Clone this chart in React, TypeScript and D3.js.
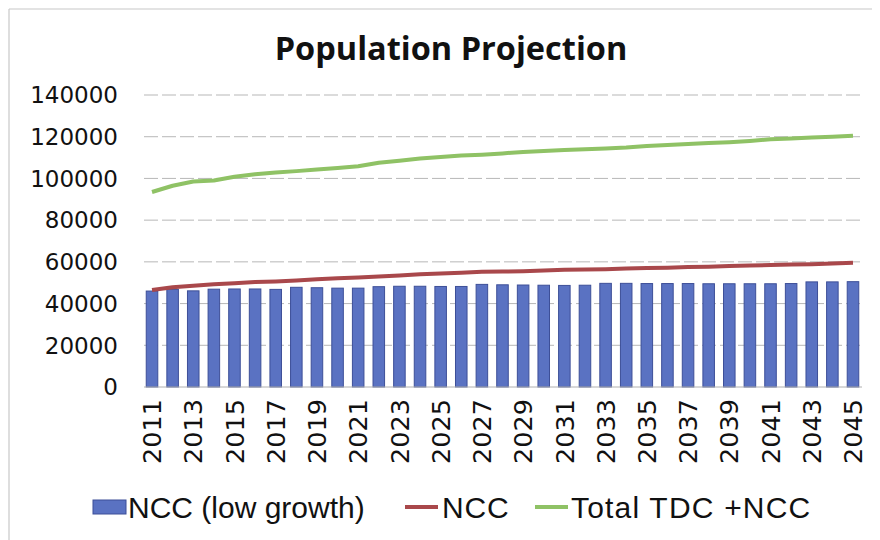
import React from "react";
import * as d3 from "d3";

const years: number[] = d3.range(2011, 2046);

const nccLowGrowth: number[] = [
  46000, 46800, 46100, 46900, 47000, 47000, 46800, 47800, 47600, 47400,
  47400, 48100, 48300, 48300, 48200, 48200, 49200, 49000, 48900, 48800,
  48700, 48800, 49700, 49700, 49600, 49600, 49600, 49500, 49500, 49500,
  49500, 49600, 50400, 50400, 50500,
];

const ncc: number[] = [
  46500, 47800, 48600, 49300, 49800, 50300, 50600, 51100, 51700, 52100,
  52500, 53000, 53500, 54000, 54400, 54800, 55200, 55400, 55500, 55800,
  56200, 56300, 56500, 56800, 57000, 57200, 57500, 57700, 58000, 58200,
  58500, 58700, 58900, 59200, 59600,
];

const totalTdcNcc: number[] = [
  93500, 96500, 98500, 99000, 100800, 102000, 102800, 103500, 104300, 105000,
  105800, 107500, 108500, 109500, 110300, 111000, 111400, 112000, 112700, 113200,
  113600, 114000, 114400, 114800, 115500, 116000, 116500, 117000, 117400, 118000,
  118800, 119200, 119600, 120000, 120500,
];

const yTicks: number[] = [0, 20000, 40000, 60000, 80000, 100000, 120000, 140000];
const xTickYears: number[] = years.filter((y) => (y - 2011) % 2 === 0);

const legendLabels: string[] = ["NCC (low growth)", "NCC", "Total TDC +NCC"];

const W = 880;
const H = 540;
const FONT = "'DejaVu Sans', Verdana, sans-serif";
const LEGEND_FONT = "'Liberation Sans', Arial, sans-serif";
const BAR_FILL = "#5a72c2";
const BAR_STROKE = "#3d4f98";
const RED = "#a9484b";
const GREEN = "#8fc265";

export default function App() {
  const x = d3
    .scaleBand<number>()
    .domain(years)
    .range([141.7, 863.3])
    .paddingInner(0.44)
    .paddingOuter(0.22);
  const y = d3.scaleLinear().domain([0, 140000]).range([387, 95]);
  const cx = (yr: number) => (x(yr) as number) + x.bandwidth() / 2;

  const line = d3
    .line<number>()
    .x((_, i) => cx(years[i]))
    .y((v) => y(v));

  return (
    <svg
      width={W}
      height={H}
      viewBox={`0 0 ${W} ${H}`}
      style={{ position: "absolute", left: 0, top: 0, background: "#fff" }}
    >
      <rect x={0} y={0} width={W} height={H} fill="#fff" />
      {/* chart frame */}
      <line x1={9} y1={9} x2={872} y2={9} stroke="#c8c8c8" strokeWidth={1.2} />
      <line x1={9} y1={9} x2={9} y2={540} stroke="#c8c8c8" strokeWidth={1.2} />

      <text
        x={451}
        y={60}
        textAnchor="middle"
        fontFamily="'Open Sans', sans-serif"
        fontWeight={700}
        fontSize={32.5}
        fill="#111"
      >
        Population Projection
      </text>

      {/* gridlines */}
      {yTicks.slice(1).map((t) => (
        <line
          key={t}
          x1={144}
          x2={862}
          y1={y(t)}
          y2={y(t)}
          stroke="#a0a0a0"
          strokeWidth={1}
          strokeDasharray="14 4"
          opacity={0.75}
        />
      ))}

      {/* y tick labels */}
      {yTicks.map((t) => (
        <text
          key={t}
          x={118}
          y={y(t)}
          dy="0.36em"
          textAnchor="end"
          fontFamily={FONT}
          fontSize={23}
          fill="#111"
        >
          {t}
        </text>
      ))}

      {/* bars */}
      {years.map((yr, i) => (
        <rect
          key={yr}
          x={x(yr)}
          y={y(nccLowGrowth[i])}
          width={x.bandwidth()}
          height={y(0) - y(nccLowGrowth[i])}
          fill={BAR_FILL}
          stroke={BAR_STROKE}
          strokeWidth={1}
        />
      ))}

      {/* baseline */}
      <line x1={144} x2={862} y1={y(0)} y2={y(0)} stroke="#b0b0b0" strokeWidth={1} />

      {/* lines */}
      <path d={line(ncc) || ""} fill="none" stroke={RED} strokeWidth={4} strokeLinejoin="round" />
      <path d={line(totalTdcNcc) || ""} fill="none" stroke={GREEN} strokeWidth={4} strokeLinejoin="round" />

      {/* x tick labels */}
      {xTickYears.map((yr) => (
        <text
          key={yr}
          transform={`translate(${cx(yr)},${399}) rotate(-90)`}
          dy="0.36em"
          textAnchor="end"
          fontFamily={FONT}
          fontSize={25.5}
          fill="#111"
        >
          {yr}
        </text>
      ))}

      {/* legend */}
      <g fontFamily={LEGEND_FONT} fontSize={30} fill="#111">
        <rect x={93} y={500} width={33} height={14} fill={BAR_FILL} stroke={BAR_STROKE} strokeWidth={1} />
        <text x={128} y={507} dy="0.36em">{legendLabels[0]}</text>
        <line x1={405} x2={438} y1={507} y2={507} stroke={RED} strokeWidth={4} />
        <text x={442} y={507} dy="0.36em" letterSpacing={0.8}>{legendLabels[1]}</text>
        <line x1={535} x2={568} y1={507} y2={507} stroke={GREEN} strokeWidth={4} />
        <text x={571} y={507} dy="0.36em" letterSpacing={1.2}>{legendLabels[2]}</text>
      </g>
    </svg>
  );
}
